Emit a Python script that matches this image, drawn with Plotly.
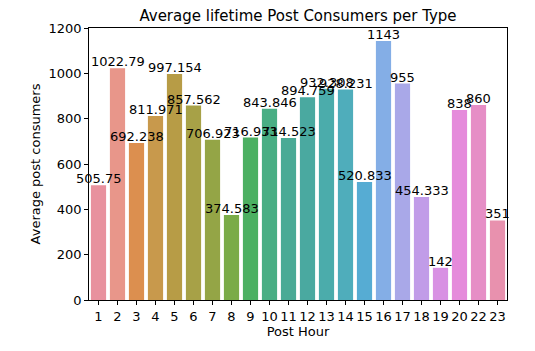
import plotly.graph_objects as go

hours = ["1", "2", "3", "4", "5", "6", "7", "8", "9", "10", "11", "12",
         "13", "14", "15", "16", "17", "18", "19", "20", "22", "23"]
avg_consumers = [505.75, 1022.79, 692.238, 811.971, 997.154, 857.562, 706.923,
                 374.583, 716.933, 843.846, 714.523, 894.759, 932.308, 928.231,
                 520.833, 1143, 955, 454.333, 142, 838, 860, 351]
bar_colors = ["#e8919e", "#e8968a", "#dc8f4f", "#c8994c", "#b79c46", "#a7a147",
              "#94a546", "#7aab48", "#4cb062", "#49ae84", "#4aaa96", "#4aa9a0",
              "#4bacab", "#4fadbb", "#56acd3", "#84aee6", "#a9a8e8", "#c19ce8",
              "#d891e3", "#e58bdb", "#e68ec6", "#e891ae"]

font = "DejaVu Sans"
fig = go.Figure(go.Bar(x=hours, y=avg_consumers, marker=dict(color=bar_colors, line=dict(width=0))))

# category axis: annotation x given as category index
for i, v in enumerate(avg_consumers):
    fig.add_annotation(x=i, y=v, text=f"{v:g}", showarrow=False, yanchor="bottom",
                       xanchor="center", borderpad=0, yshift=-2,
                       font=dict(family=font, size=13, color="#000000"))

fig.update_layout(
    width=535, height=351,
    margin=dict(l=89, r=28, t=28, b=51),
    paper_bgcolor="white", plot_bgcolor="white",
    bargap=0.2, showlegend=False,
    title=dict(text="Average lifetime Post Consumers per Type", x=(89 + 507) / 2 / 535,
               xanchor="center", y=1 - 16 / 351, yanchor="middle",
               font=dict(family=font, size=15, color="#000000")),
    font=dict(family=font, size=13, color="#000000"),
)
axis_common = dict(showline=True, linecolor="#000000", linewidth=0.8, mirror=True,
                   ticks="outside", ticklen=4, tickwidth=0.8, tickcolor="#000000",
                   showgrid=False, zeroline=False,
                   tickfont=dict(family=font, size=13, color="#000000"))
fig.update_xaxes(**axis_common, type="category", range=[-0.5, len(hours) - 0.5],
                 title=dict(text="Post Hour", standoff=4, font=dict(family=font, size=13)))
fig.update_yaxes(**axis_common, range=[0, 1200], tickvals=[0, 200, 400, 600, 800, 1000, 1200],
                 title=dict(text="Average post consumers", standoff=4, font=dict(family=font, size=13)))

fig.write_html("out.html")
